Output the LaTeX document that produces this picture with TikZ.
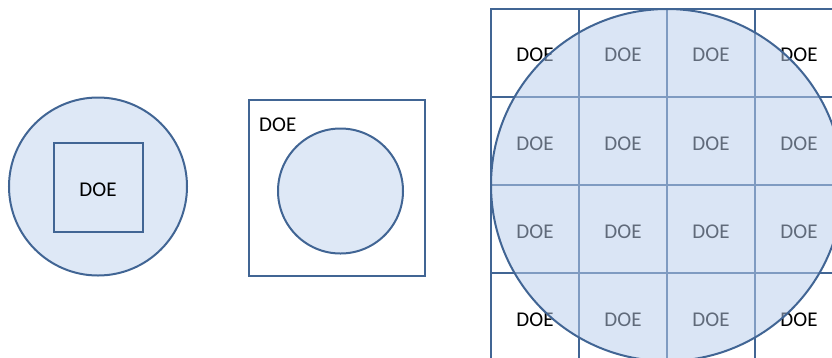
\documentclass[tikz,border=0pt]{standalone}
\usepackage{fontspec}
\setmainfont{Carlito}
\definecolor{edge}{RGB}{65,101,148}
\definecolor{pale}{RGB}{222,232,246}
\definecolor{tint}{RGB}{185,205,235}
\begin{document}
\begin{tikzpicture}[x=1pt,y=-1pt,
  outline/.style={draw=edge,line width=2pt},
  txt/.style={font=\fontsize{21}{25}\selectfont,text=black,inner sep=0pt},
  doelabel/.style={label={[txt,yshift=-2.5pt]center:DOE}},
  cell/.style={outline,rectangle,minimum width=88pt,minimum height=88pt,inner sep=0pt,doelabel},
  disc/.style={outline,circle,inner sep=0pt,fill=pale}]
\useasboundingbox (0,0) rectangle (832,357);
\clip (0,0) rectangle (832,357);
% left
\node[disc,minimum size=178pt] (c1) at (98,186.5) {};
\node[outline,rectangle,minimum size=89pt,inner sep=0pt,doelabel] (s1) at (98,187.5) {};
% middle
\node[outline,rectangle,minimum size=176pt,inner sep=0pt] (r2) at (337,188) {};
\node[disc,minimum size=125pt] (c2) at (340.5,191) {};
\node[txt,anchor=west] (t2) at (259,125) {DOE};
% right grid
\foreach \i/\x in {0/535,1/623,2/711,3/799}{
  \foreach \j/\y in {0/52.5,1/141,2/229,3/317}{
    \node[cell] (g\i\j) at (\x,\y) {};
  }
}
\node[outline,circle,inner sep=0pt,minimum size=352pt,fill=tint,fill opacity=0.52] (c3) at (667,185) {};
\end{tikzpicture}
\end{document}
